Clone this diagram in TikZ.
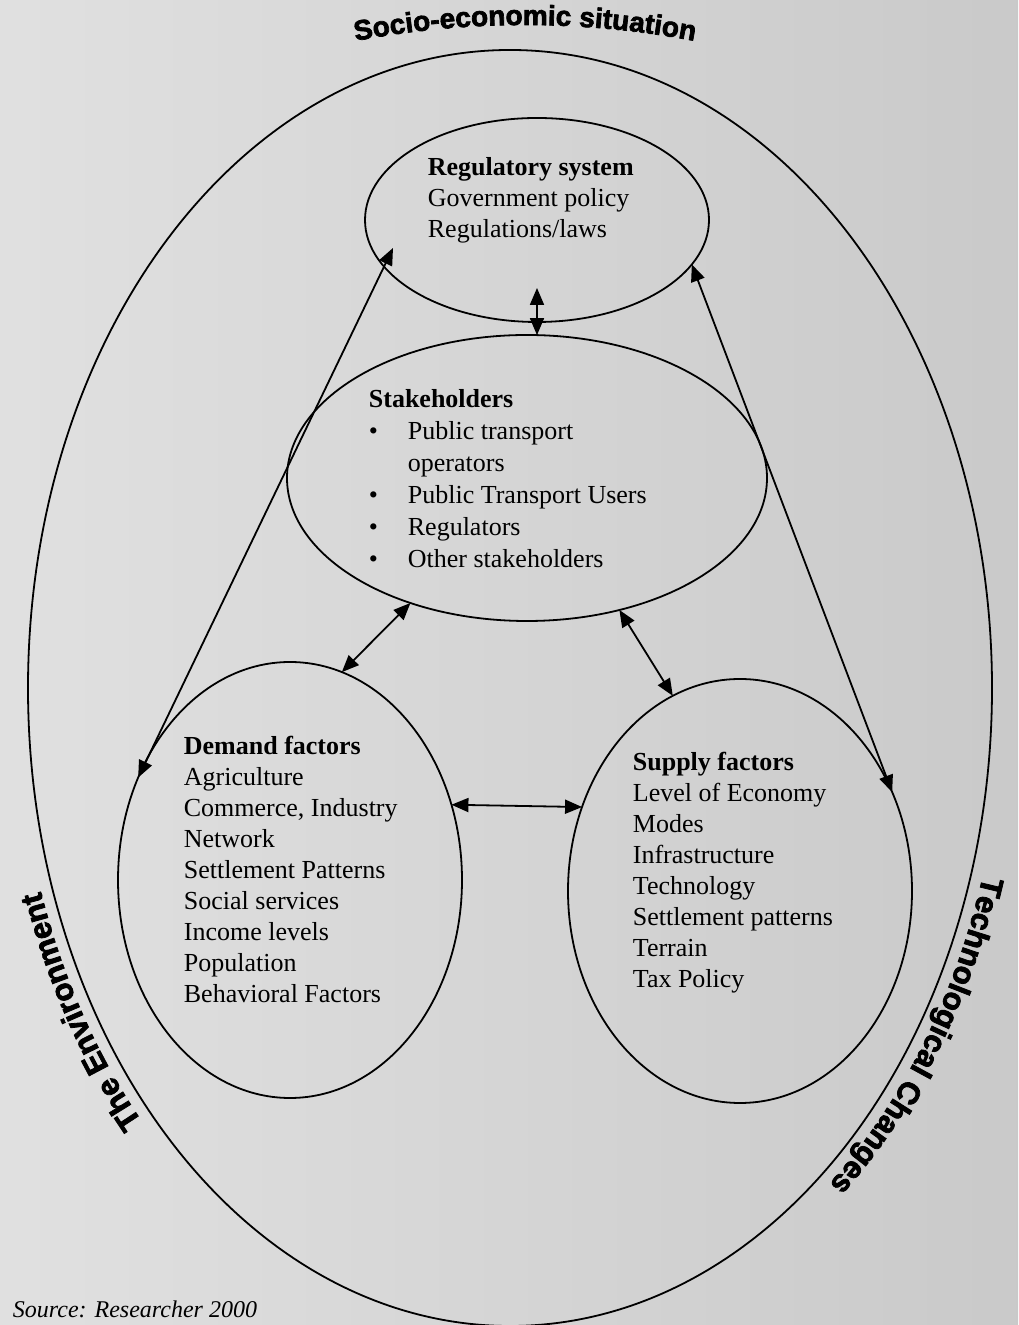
\documentclass[tikz,border=0pt]{standalone}
\usepackage{fontspec}
\setmainfont{Liberation Serif}
\newfontfamily\labelfont[BoldFeatures={FakeBold=2.5}]{Liberation Sans}
\usepackage{tikz}
\usetikzlibrary{shapes.geometric}
\usetikzlibrary{arrows.meta}
\usetikzlibrary{decorations.text}

\newcommand{\itembul}{\makebox[39pt][l]{\textbullet}}

\begin{document}
\begin{tikzpicture}[x=1pt,y=1pt,line width=1.8pt,
    oval/.style={draw,ellipse,inner sep=0,outer sep=0},
    box/.style={anchor=base west,align=left,inner sep=0,font=\fontsize{26}{31}\selectfont},
    link/.style={{Triangle[length=17pt,width=14pt]}-{Triangle[length=17pt,width=14pt]}},
    arclabel/.style 2 args={decorate,decoration={text along path,text align=center,
      text={|\labelfont\bfseries\fontsize{#1}{#1}\selectfont|#2}}}]
  % page
  \shade[left color=black!12,right color=black!21] (0,0) rectangle (1018,1325);
  \useasboundingbox (0,0) rectangle (1018,1325);
  % context
  \node[oval,minimum width=964pt,minimum height=1276pt] (env) at (510,637) {};
  \path[arclabel={28}{Socio-economic situation}] (525,391) ++(102:909) arc[start angle=102,end angle=78,radius=909];
  \path[arclabel={31}{The Environment}] (510,637) ++(237:494 and 650) arc[start angle=237,end angle=185,x radius=494,y radius=650];
  \path[arclabel={31}{Technological Changes}] (510,637) ++(-8:494 and 650) arc[start angle=-8,end angle=-60,x radius=494,y radius=650];
  % ovals
  \node[oval,minimum width=344pt,minimum height=204pt] (reg) at (537,1105) {};
  \node[oval,minimum width=480pt,minimum height=286pt] (stake) at (527,847) {};
  \node[oval,minimum width=344pt,minimum height=436pt] (dem) at (290,445) {};
  \node[oval,minimum width=344pt,minimum height=424pt] (sup) at (740,434) {};
  % texts (anchored on the last line)
  \node[box] (regtxt) at (427,1087) {\textbf{Regulatory system}\\Government policy\\Regulations/laws};
  \node[box,font=\fontsize{26}{32}\selectfont] (staketxt) at (368,757) {\textbf{Stakeholders}\\
    \itembul Public transport\\\hspace*{39pt}operators\\\itembul Public Transport Users\\
    \itembul Regulators\\\itembul Other stakeholders};
  \node[box] (demtxt) at (183,322) {\textbf{Demand factors}\\Agriculture\\Commerce, Industry\\Network\\
    Settlement Patterns\\Social services\\Income levels\\Population\\Behavioral Factors};
  \node[box] (suptxt) at (632,337) {\textbf{Supply factors}\\Level of Economy\\Modes\\Infrastructure\\
    Technology\\Settlement patterns\\Terrain\\Tax Policy};
  % links
  \coordinate (reglow) at (537,1037);
  \coordinate (regleft) at (393,1077);
  \draw[link] (reglow) -- (stake.86);
  \draw[link] (dem.146) -- (regleft);
  \draw[link] (sup.33) -- (reg.344);
  \draw[link] (stake.227) -- (dem.76);
  \draw[link] (stake.305) -- (sup.109);
  \draw[link] (dem.25) -- (sup.152);
  \node[anchor=base west,inner sep=0,font=\itshape\fontsize{24}{24}\selectfont] (src) at (12,8) {Source: Researcher 2000};
\end{tikzpicture}
\end{document}
